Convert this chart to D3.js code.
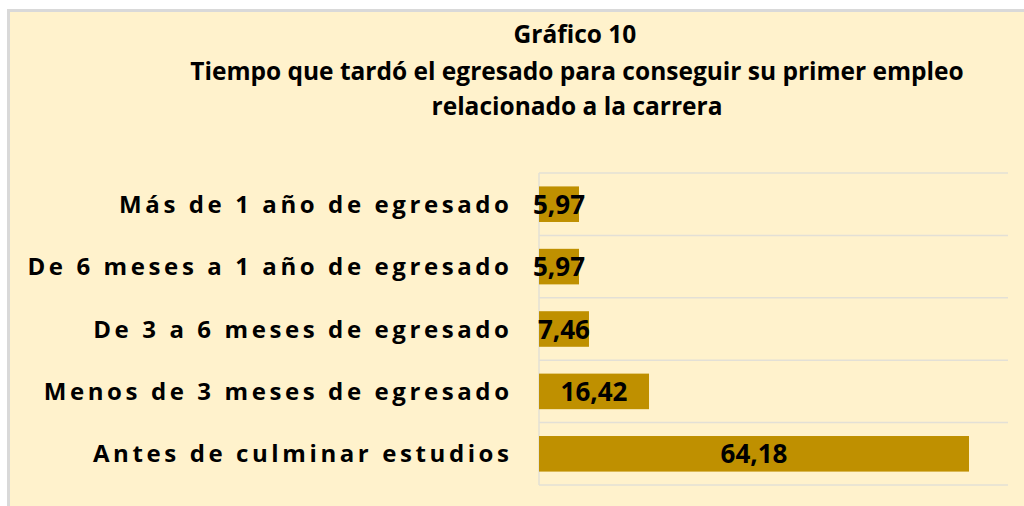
<!DOCTYPE html>
<html>
<head>
<meta charset="utf-8">
<script src="https://cdn.jsdelivr.net/npm/d3@7"></script>
<style>
  body { margin: 0; background: #fff; }
  text { font-family: "Open Sans", "Noto Sans", sans-serif; font-weight: bold; fill: #000; }
</style>
</head>
<body>
<script>
// data (top to bottom)
const categories = [
    "Más de 1 año de egresado",
    "De 6 meses a 1 año de egresado",
    "De 3 a 6 meses de egresado",
    "Menos de 3 meses de egresado",
    "Antes de culminar estudios"
];
const values = [5.97, 5.97, 7.46, 16.42, 64.18];
const titleLines = [
    "Gráfico 10",
    "Tiempo que tardó el egresado para conseguir su primer empleo",
    "relacionado a la carrera"
];

const W = 1024, H = 506;
const plot = { left: 539, right: 1008, top: 173, bottom: 485 };

const svg = d3.select("body").append("svg")
    .attr("width", W)
    .attr("height", H);

// panel background
svg.append("rect")
    .attr("x", 8.5).attr("y", 10.5)
    .attr("width", W + 10).attr("height", H + 10)
    .attr("fill", "#FFF2CC")
    .attr("stroke", "#D9D9D9")
    .attr("stroke-width", 3);

// title
const titleBase = [43, 80, 115];
svg.selectAll("text.title")
    .data(titleLines)
    .enter().append("text")
    .attr("class", "title")
    .attr("x", (d, i) => i == 0 ? 575 : 577)
    .attr("y", (d, i) => titleBase[i])
    .attr("text-anchor", "middle")
    .style("font-size", "24.5px")
    .text(d => d);

const data = categories.map((c, i) => ({ label: c, value: values[i] }));

const x = d3.scaleLinear()
    .domain([0, 70])
    .range([plot.left, plot.right]);

const cell = d3.scaleBand()
    .domain(categories)
    .range([plot.top, plot.bottom]);

const y = d3.scaleBand()
    .domain(categories)
    .range([plot.top, plot.bottom])
    .paddingInner(0.43)
    .paddingOuter(0.215);

// gridlines between categories
const gridY = categories.map(c => cell(c)).concat([plot.bottom]);
svg.append("g")
    .selectAll("line")
    .data(gridY)
    .enter().append("line")
    .attr("x1", plot.left).attr("x2", plot.right)
    .attr("y1", d => d).attr("y2", d => d)
    .attr("stroke", "#E3E0D6")
    .attr("stroke-width", 1.5);

// vertical axis line
svg.append("line")
    .attr("x1", plot.left).attr("x2", plot.left)
    .attr("y1", plot.top).attr("y2", plot.bottom)
    .attr("stroke", "#E3E0D6")
    .attr("stroke-width", 1.5);

// bars
svg.selectAll("rect.bar")
    .data(data)
    .enter().append("rect")
    .attr("class", "bar")
    .attr("x", x(0))
    .attr("y", d => y(d.label))
    .attr("width", d => x(d.value) - x(0))
    .attr("height", y.bandwidth())
    .attr("fill", "#BF9000");

// category labels
const spacing = 3.6;
svg.selectAll("text.cat")
    .data(data)
    .enter().append("text")
    .attr("class", "cat")
    .attr("x", 509 + spacing)
    .attr("y", d => y(d.label) + y.bandwidth() / 2 + 8.5)
    .attr("text-anchor", "end")
    .style("font-size", "24px")
    .style("letter-spacing", spacing + "px")
    .text(d => d.label);

// value labels
svg.selectAll("text.val")
    .data(data)
    .enter().append("text")
    .attr("class", "val")
    .attr("x", d => (x(0) + x(d.value)) / 2)
    .attr("y", d => y(d.label) + y.bandwidth() / 2 + 9.5)
    .attr("text-anchor", "middle")
    .style("font-size", "26px")
    .text(d => d3.format(".2f")(d.value).replace(".", ","));
</script>
</body>
</html>
